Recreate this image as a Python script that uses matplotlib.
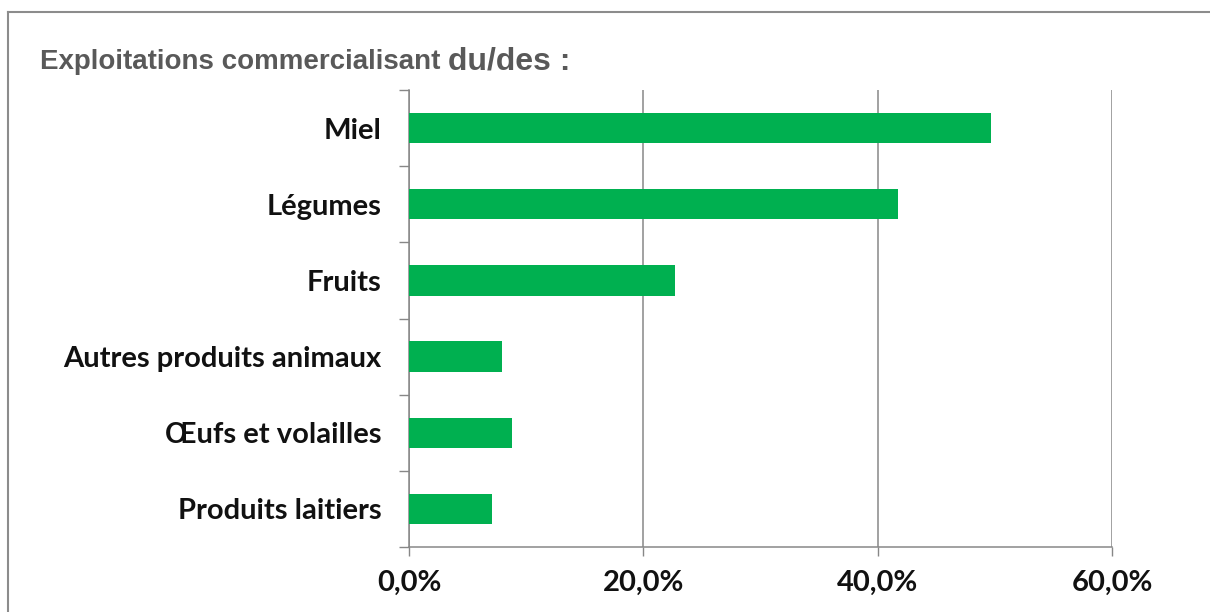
import matplotlib.pyplot as plt
from matplotlib.lines import Line2D
from matplotlib.ticker import FuncFormatter, FixedLocator

plt.rcParams['font.family'] = ['Lato', 'DejaVu Sans']

# Share of farms selling each product, in %
categories = ['Produits laitiers', 'Œufs et volailles', 'Autres produits animaux',
              'Fruits', 'Légumes', 'Miel']
values = [7.1, 8.8, 7.9, 22.7, 41.7, 49.7]
x_ticks = [0, 20, 40, 60]

GREEN = '#00B050'
GRID = '#878787'
TEXT = '#111111'
TITLE = '#595959'

fig = plt.figure(figsize=(12.1, 6.12), dpi=100)
ax = fig.add_axes([409 / 1210, 65 / 612, 703 / 1210, 457 / 612])

pos = list(range(len(categories)))
ax.barh(pos, values, height=0.4, color=GREEN, zorder=3)

ax.set_xlim(0, 60)
ax.set_ylim(-0.5, len(categories) - 0.5)

# x axis: percent labels with a decimal comma
ax.set_xticks(x_ticks)
ax.xaxis.set_major_formatter(FuncFormatter(lambda v, p: f'{v:.1f}%'.replace('.', ',')))
ax.tick_params(axis='x', direction='out', length=6.5, width=1, color=GRID,
               labelsize=21, labelcolor=TEXT, pad=10)
for lbl in ax.get_xticklabels():
    lbl.set_fontweight('bold')
ax.grid(axis='x', color=GRID, linewidth=1.1, zorder=0)

# y axis: category names, ticks between categories
ax.set_yticks(pos)
ax.set_yticklabels(categories, fontweight='bold')
ax.yaxis.set_minor_locator(FixedLocator([p - 0.5 for p in range(len(categories) + 1)]))
ax.tick_params(axis='y', which='major', length=0, labelsize=21, labelcolor=TEXT, pad=20)
ax.tick_params(axis='y', which='minor', direction='out', length=7, width=1, color=GRID)

for side in ('top', 'right'):
    ax.spines[side].set_visible(False)
for side in ('left', 'bottom'):
    ax.spines[side].set_color(GRID)
    ax.spines[side].set_linewidth(1.1)

# title in two sizes, second part placed right after the first
y_title = 1 - 69 / 612
t1 = fig.text(40 / 1210, y_title, 'Exploitations commercialisant ',
              family='Liberation Sans', fontweight='bold', fontsize=20,
              color=TITLE, va='baseline', ha='left')
renderer = fig.canvas.get_renderer()
bb = t1.get_window_extent(renderer).transformed(fig.transFigure.inverted())
fig.text(bb.x1, y_title, 'du/des :',
         family='Liberation Sans', fontweight='bold', fontsize=23,
         color=TITLE, va='baseline', ha='left')

# outer frame (open on the right and bottom)
fig.add_artist(Line2D([8 / 1210, 8 / 1210], [0, 1 - 12 / 612],
                      transform=fig.transFigure, color='#8c8c8c', linewidth=1.5))
fig.add_artist(Line2D([8 / 1210, 1], [1 - 12 / 612, 1 - 12 / 612],
                      transform=fig.transFigure, color='#8c8c8c', linewidth=1.5))

fig.savefig('out.png', dpi=100, facecolor='white')
